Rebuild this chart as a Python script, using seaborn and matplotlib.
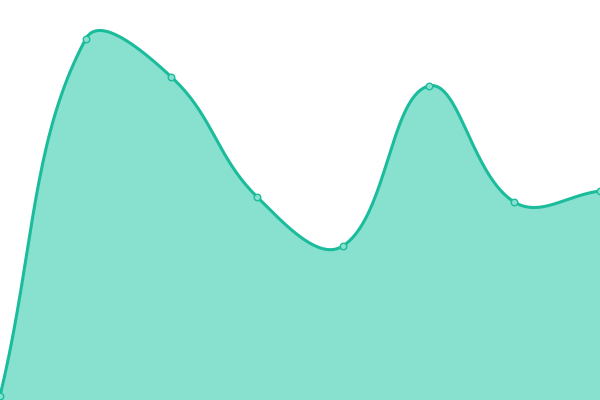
import numpy as np
import pandas as pd
import seaborn as sns
from matplotlib import pyplot as plt

# values (height above the bottom edge, 0..400 scale)
labels = ['p1', 'p2', 'p3', 'p4', 'p5', 'p6', 'p7', 'p8']
values = [4, 361, 323, 203, 154, 314, 198, 209]

line_color = '#1abc9c'
fill_color = '#88e0cf'

W, H = 600, 400


def spline_curve(xs, ys, tension=0.4, steps=40):
    # cardinal-style bezier, same idea as chart.js default line tension
    pts = np.column_stack([xs, ys]).astype(float)
    n = len(pts)
    cp_in, cp_out = [], []
    for i in range(n):
        prev = pts[max(i - 1, 0)]
        cur = pts[i]
        nxt = pts[min(i + 1, n - 1)]
        d01 = np.hypot(*(cur - prev))
        d12 = np.hypot(*(nxt - cur))
        s01 = d01 / (d01 + d12) if d01 + d12 else 0
        s12 = d12 / (d01 + d12) if d01 + d12 else 0
        cp_in.append(cur - tension * s01 * (nxt - prev))
        cp_out.append(cur + tension * s12 * (nxt - prev))
    out = []
    t = np.linspace(0, 1, steps)[:, None]
    for i in range(n - 1):
        p0, p1, p2, p3 = pts[i], cp_out[i], cp_in[i + 1], pts[i + 1]
        seg = ((1 - t) ** 3) * p0 + 3 * ((1 - t) ** 2) * t * p1 + 3 * (1 - t) * t ** 2 * p2 + t ** 3 * p3
        out.append(seg if i == 0 else seg[1:])
    out = np.vstack(out)
    out[:, 1] = np.clip(out[:, 1], 0, H)
    return out


# x positions in pixels across the full width
xs = np.arange(len(values)) * W / (len(values) - 1)
curve = spline_curve(xs, values)
df_curve = pd.DataFrame({'x': curve[:, 0], 'y': curve[:, 1]})
df_pts = pd.DataFrame({'x': xs, 'y': values, 'label': labels})

sns.set_style('white')
fig = plt.figure(figsize=(6, 4), dpi=100)
ax = fig.add_axes([0, 0, 1, 1])

ax.fill_between(df_curve['x'], df_curve['y'], 0, color=fill_color, lw=0)
sns.lineplot(data=df_curve, x='x', y='y', ax=ax, color=line_color, lw=2.2,
             sort=False, estimator=None)
sns.scatterplot(data=df_pts, x='x', y='y', ax=ax, s=22, color=fill_color,
                edgecolor=line_color, linewidth=1, zorder=5, clip_on=False)

ax.set_xlim(0, W)
ax.set_ylim(0, H)
ax.axis('off')

fig.savefig('out.png', dpi=100)
